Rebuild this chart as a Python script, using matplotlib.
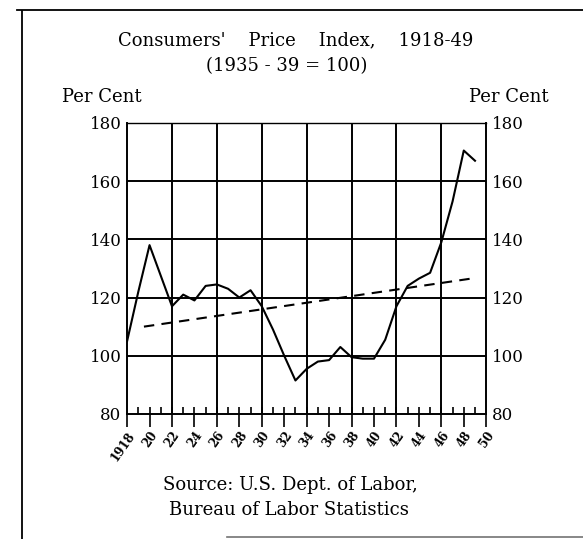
import matplotlib
matplotlib.use('Agg')
import matplotlib.pyplot as plt
from matplotlib.ticker import FixedLocator
from matplotlib.lines import Line2D

# Consumers' price index, 1935-39 = 100
years = [1918, 1919, 1920, 1921, 1922, 1923, 1924, 1925, 1926, 1927, 1928,
         1929, 1930, 1931, 1932, 1933, 1934, 1935, 1936, 1937, 1938, 1939,
         1940, 1941, 1942, 1943, 1944, 1945, 1946, 1947, 1948, 1949]
cpi = [105, 122, 138, 127.5, 117, 121, 119, 124, 124.5, 123, 120,
       122.5, 117, 109, 100, 91.5, 95.5, 98, 98.5, 103, 99.5, 99,
       99, 105.5, 117, 124, 126.5, 128.5, 139, 153, 170.5, 167]

# trend line (dashed)
trend_x = [1919.5, 1949]
trend_y = [110, 126.7]

tick_years = list(range(1918, 1951, 2))
tick_labels = ['1918'] + [str(y)[2:] for y in tick_years[1:]]
y_ticks = [80, 100, 120, 140, 160, 180]

plt.rcParams['font.family'] = 'DejaVu Serif'

fig = plt.figure(figsize=(5.83, 5.39), dpi=100)
ax = fig.add_axes([0.218, 0.232, 0.616, 0.540])

# grid
for yv in [100, 120, 140, 160]:
    ax.axhline(yv, color='black', lw=1.4, zorder=1)
for xv in range(1922, 1950, 4):
    ax.axvline(xv, color='black', lw=1.4, zorder=1)

ax.plot(years, cpi, color='black', lw=1.5, zorder=3)
ax.plot(trend_x, trend_y, color='black', lw=1.5, ls=(0, (5, 3.5)), zorder=3)

ax.set_xlim(1918, 1950)
ax.set_ylim(80, 180)

for s in ax.spines.values():
    s.set_linewidth(1.4)
ax.spines['top'].set_linewidth(1.0)

ax.set_xticks(tick_years)
ax.set_xticklabels(tick_labels, rotation=55, fontsize=8.5, fontweight='bold',
                   ha='right', rotation_mode='anchor')
ax.xaxis.set_minor_locator(FixedLocator(list(range(1919, 1950))))
ax.xaxis.remove_overlapping_locs = False
ax.tick_params(axis='x', which='major', direction='out', length=9, width=1.2, pad=2)
ax.tick_params(axis='x', which='minor', direction='in', length=5, width=1.2)

ax.set_yticks(y_ticks)
ax.set_yticklabels([str(v) for v in y_ticks], fontsize=12)
ax.tick_params(axis='y', which='both', length=0, pad=4,
               left=True, right=True, labelleft=True, labelright=True)

fig.text(0.508, 0.925, "Consumers'    Price    Index,    1918-49", ha='center',
         va='center', fontsize=13)
fig.text(0.492, 0.877, "(1935 - 39 = 100)", ha='center', va='center', fontsize=13)
fig.text(0.106, 0.820, "Per Cent", ha='left', va='center', fontsize=13)
fig.text(0.941, 0.820, "Per Cent", ha='right', va='center', fontsize=13)
fig.text(0.498, 0.100, "Source: U.S. Dept. of Labor,", ha='center', va='center',
         fontsize=13)
fig.text(0.495, 0.053, "Bureau of Labor Statistics", ha='center', va='center',
         fontsize=13)

# page border
fig.add_artist(Line2D([0.038, 0.038], [0.0, 0.98], color='black', lw=1.3,
                      transform=fig.transFigure))
fig.add_artist(Line2D([0.030, 1.0], [0.982, 0.982], color='black', lw=1.3,
                      transform=fig.transFigure))
fig.add_artist(Line2D([0.39, 1.0], [0.003, 0.003], color='0.45', lw=1.2,
                      transform=fig.transFigure))

fig.savefig('out.png', dpi=100)
